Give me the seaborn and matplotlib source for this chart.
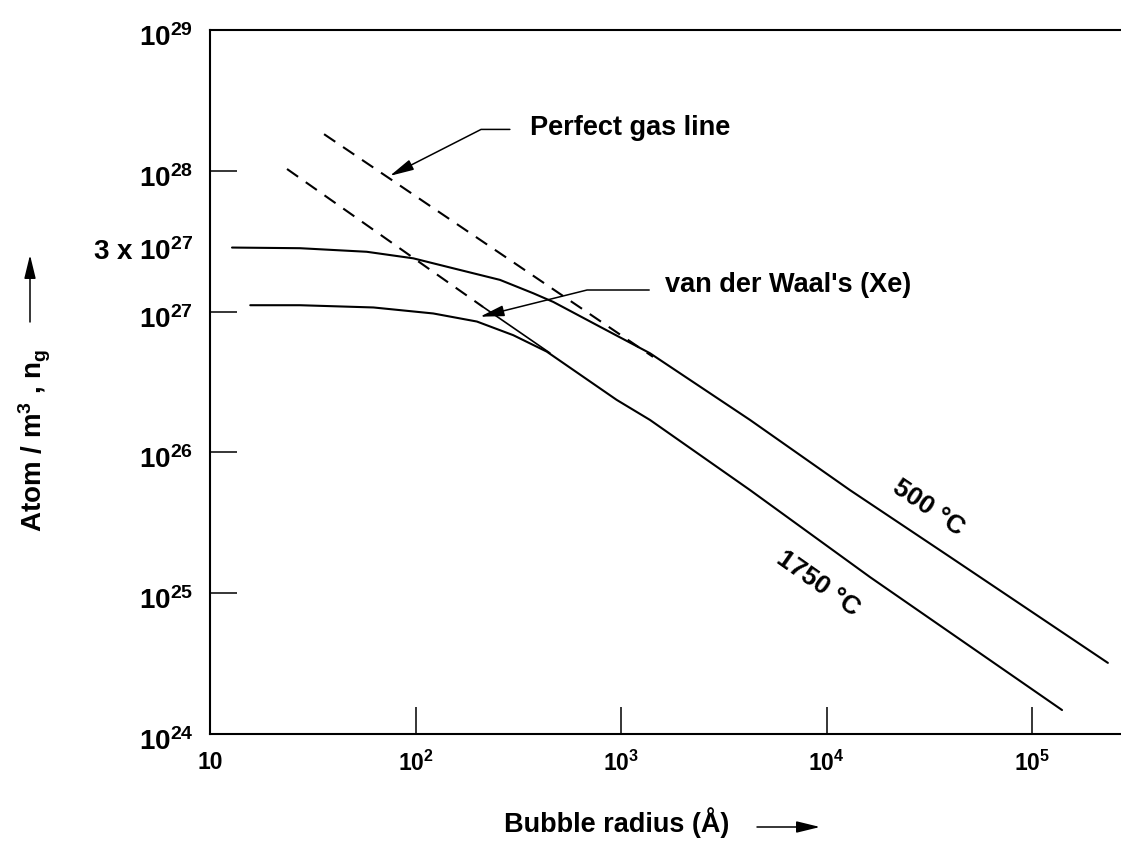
import matplotlib
matplotlib.use('Agg')
import matplotlib.pyplot as plt
import matplotlib.transforms as mtransforms
import seaborn as sns
import pandas as pd
from matplotlib.ticker import NullLocator

# ---------------- data ----------------
r_500 = [12.8, 27.4, 57.9, 97.5, 152.7, 257.6, 374, 469, 791, 1384, 4246, 1.30e4, 3.99e4, 2.34e5]
n_500 = [2.85e27, 2.82e27, 2.66e27, 2.39e27, 2.03e27, 1.68e27, 1.35e27, 1.17e27, 7.8e26, 5.06e26,
         1.70e26, 5.4e25, 1.81e25, 3.2e24]

r_1750 = [15.7, 27.4, 62.4, 122, 199, 299, 435, 953, 1384, 4246, 1.63e4, 1.40e5]
n_1750 = [1.11e27, 1.11e27, 1.07e27, 9.7e26, 8.5e26, 6.8e26, 5.2e26, 2.36e26, 1.70e26, 5.4e25,
          1.30e25, 1.48e24]

r_gas_500 = [35.9, 1432]
n_gas_500 = [1.82e28, 4.77e26]
r_gas_1750_dashed = [23.7, 213]
n_gas_1750_dashed = [1.03e28, 1.08e27]
r_gas_1750_solid = [213, 451]
n_gas_1750_solid = [1.08e27, 5.08e26]

x_ticks = [10, 1e2, 1e3, 1e4, 1e5]
x_tick_labels = ['10', '10$^{2}$', '10$^{3}$', '10$^{4}$', '10$^{5}$']
y_ticks = [1e24, 1e25, 1e26, 1e27, 3e27, 1e28, 1e29]
y_tick_labels = ['10$^{24}$', '10$^{25}$', '10$^{26}$', '10$^{27}$', '3 x 10$^{27}$',
                 '10$^{28}$', '10$^{29}$']

x_label = 'Bubble radius (Å)'
y_label = 'Atom / m$^{3}$ , n$_{g}$'
label_500 = '500 °C'
label_1750 = '1750 °C'
label_gas = 'Perfect gas line'
label_vdw = "van der Waal's (Xe)"

# ---------------- style ----------------
sns.set_theme(style='white')
plt.rcParams['font.family'] = ['Liberation Sans', 'DejaVu Sans']
plt.rcParams['font.weight'] = 'bold'
plt.rcParams['mathtext.fontset'] = 'custom'
plt.rcParams['mathtext.rm'] = 'Liberation Sans:bold'
plt.rcParams['mathtext.it'] = 'Liberation Sans:bold'
plt.rcParams['mathtext.bf'] = 'Liberation Sans:bold'
plt.rcParams['mathtext.sf'] = 'Liberation Sans:bold'
plt.rcParams['mathtext.default'] = 'rm'

W, H = 1121, 842
fig = plt.figure(figsize=(W / 100, H / 100), dpi=100)
ax = fig.add_axes([210 / W, 1 - 734 / H, 911 / W, 704 / H])

LW = 1.5
df500 = pd.DataFrame({'r': r_500, 'n': n_500})
df1750 = pd.DataFrame({'r': r_1750, 'n': n_1750})
sns.lineplot(data=df500, x='r', y='n', ax=ax, color='black', lw=LW, sort=False, estimator=None)
sns.lineplot(data=df1750, x='r', y='n', ax=ax, color='black', lw=LW, sort=False, estimator=None)
sns.lineplot(x=r_gas_500, y=n_gas_500, ax=ax, color='black', lw=LW, sort=False, estimator=None)
ax.lines[-1].set_dashes([6.5, 4.5])
sns.lineplot(x=r_gas_1750_dashed, y=n_gas_1750_dashed, ax=ax, color='black', lw=LW,
             sort=False, estimator=None)
ax.lines[-1].set_dashes([6.5, 4.5])
sns.lineplot(x=r_gas_1750_solid, y=n_gas_1750_solid, ax=ax, color='black', lw=1.2,
             sort=False, estimator=None)

ax.set_xscale('log')
ax.set_yscale('log')
ax.set_xlim(10, 10 ** (1 + 911 / 205.5))
ax.set_ylim(1e24, 1e29)
ax.set_xticks(x_ticks)
ax.set_xticklabels(x_tick_labels)
ax.set_yticks(y_ticks)
ax.set_yticklabels(y_tick_labels)
ax.xaxis.set_minor_locator(NullLocator())
ax.yaxis.set_minor_locator(NullLocator())
ax.tick_params(axis='both', which='major', direction='in', length=19.5, width=1.1,
               color='black', bottom=True, left=True, top=False, right=False)
ax.tick_params(axis='x', labelsize=16.5, pad=12)
ax.tick_params(axis='y', labelsize=20, pad=12)
ax.yaxis.get_major_ticks()[4].tick1line.set_visible(False)
shift_down = mtransforms.ScaledTranslation(0, -5 / 100, fig.dpi_scale_trans)
for lab in ax.get_yticklabels():
    lab.set_transform(lab.get_transform() + shift_down)
for lab in ax.get_xticklabels() + ax.get_yticklabels():
    lab.set_fontweight('bold')
    lab.set_color('black')

for side in ['left', 'bottom', 'top']:
    ax.spines[side].set_visible(True)
    ax.spines[side].set_linewidth(1.5)
    ax.spines[side].set_color('black')
ax.spines['right'].set_visible(False)

ax.set_xlabel(x_label, fontsize=19.5, fontweight='bold', color='black')
ax.set_ylabel(y_label, fontsize=20, fontweight='bold', color='black')
ax.xaxis.set_label_coords(407 / 911, -89 / 704)
ax.yaxis.set_label_coords(-175 / 911, 294 / 704)
ax.yaxis.label.set_va('center')
ax.xaxis.label.set_va('center')

# axis arrows
ax.annotate('', xy=(820 / W, 1 - 827 / H), xytext=(757 / W, 1 - 827 / H),
            xycoords='figure fraction', textcoords='figure fraction',
            arrowprops=dict(arrowstyle='-|>,head_length=0.9,head_width=0.22', color='black',
                            lw=1.1, shrinkA=0, shrinkB=0, mutation_scale=16))
ax.annotate('', xy=(30 / W, 1 - 255 / H), xytext=(30 / W, 1 - 322 / H),
            xycoords='figure fraction', textcoords='figure fraction',
            arrowprops=dict(arrowstyle='-|>,head_length=0.9,head_width=0.22', color='black',
                            lw=1.1, shrinkA=0, shrinkB=0, mutation_scale=16))

# curve labels
ax.text(3.12e4, 4.03e25, label_500, rotation=-34, rotation_mode='anchor', ha='center', va='center',
        fontsize=19, fontweight='bold', color='black')
ax.text(9.1e3, 1.17e25, label_1750, rotation=-35, rotation_mode='anchor', ha='center', va='center',
        fontsize=19, fontweight='bold', color='black')

# annotations with leaders
ax.annotate(label_gas, xy=(75, 9.2e27), xytext=(360, 2.01e28), ha='left', va='center',
            fontsize=19.5, fontweight='bold', color='black',
            arrowprops=dict(arrowstyle='-|>,head_length=0.75,head_width=0.17', color='black', lw=1.1,
                            connectionstyle='angle,angleA=0,angleB=27,rad=0',
                            shrinkA=12, shrinkB=0, relpos=(0, 0.45)))
ax.annotate(label_vdw, xy=(206, 9.2e26), xytext=(1637, 1.55e27), ha='left', va='center',
            fontsize=19.5, fontweight='bold', color='black',
            arrowprops=dict(arrowstyle='-|>,head_length=0.75,head_width=0.17', color='black', lw=1.1,
                            connectionstyle='angle,angleA=0,angleB=14,rad=0',
                            shrinkA=9, shrinkB=0, relpos=(0, 0.3)))

fig.savefig('out.png', dpi=100, facecolor='white')
